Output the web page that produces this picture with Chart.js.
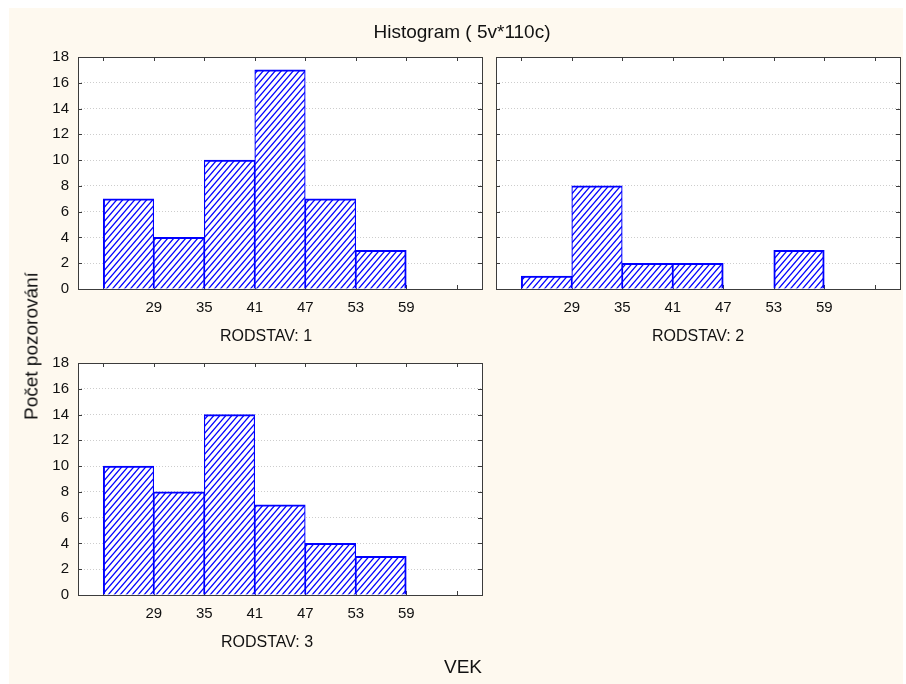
<!DOCTYPE html>
<html><head><meta charset="utf-8">
<script src="https://cdn.jsdelivr.net/npm/chart.js@4"></script>
<style>
html,body{margin:0;padding:0;background:#fff;}
#page{position:relative;width:906px;height:684px;overflow:hidden;background:#fff;}
#bg{position:absolute;left:9px;top:8px;width:894px;height:676px;background:#FEF9EF;}
canvas{position:absolute;left:0;top:0;}
.t{position:absolute;transform:translate(-50%,-50%);white-space:nowrap;font-family:'Liberation Sans',Arial,sans-serif;color:#111;line-height:1;}
</style></head>
<body><div id="page"><div id="bg"></div>
<canvas id="c1" width="906" height="684"></canvas>
<canvas id="c2" width="906" height="684"></canvas>
<canvas id="c3" width="906" height="684"></canvas>
<div class="t" style="left:462px;top:31px;font-size:19px">Histogram ( 5v*110c)</div>
<div class="t" style="left:31px;top:346px;font-size:19px;transform:translate(-50%,-50%) rotate(-90deg)">Počet pozorování</div>
<div class="t" style="left:463px;top:666px;font-size:19px">VEK</div>
<div class="t" id="p1" style="left:266px;top:336px;font-size:16px"></div>
<div class="t" id="p2" style="left:698px;top:336px;font-size:16px"></div>
<div class="t" id="p3" style="left:267px;top:642px;font-size:16px"></div>
</div>
<script>
// ---- data ----
const binEdges = [23, 29, 35, 41, 47, 53, 59, 65];
const tickLabels = ['29', '35', '41', '47', '53', '59'];
const rodstav1 = [7, 4, 10, 17, 7, 3, 0];
const rodstav2 = [1, 8, 2, 2, 0, 3, 0];
const rodstav3 = [10, 8, 14, 7, 4, 3, 0];
const panelTitles = ['RODSTAV: 1', 'RODSTAV: 2', 'RODSTAV: 3'];
const yMin = 0, yMax = 18, yStep = 2;
const xMin = 20, xMax = 68;

Chart.defaults.font.family = "'Liberation Sans', Arial, sans-serif";
Chart.defaults.color = '#111';

function hatch() {
  const w = 6, h = 7, c = document.createElement('canvas');
  c.width = w; c.height = h;
  const g = c.getContext('2d');
  g.fillStyle = '#fff'; g.fillRect(0, 0, w, h);
  g.strokeStyle = '#0000ff'; g.lineWidth = 1.25;
  for (const o of [-w, 0, w]) {
    g.beginPath(); g.moveTo(o - w / h, h + 1); g.lineTo(o + w + w / h, -1); g.stroke();
  }
  return g.createPattern(c, 'repeat');
}
const pattern = hatch();
const FRAME = '#3c3c3c';

const framePlugin = {
  id: 'frame',
  beforeDraw(chart) {
    const {ctx, chartArea: a} = chart;
    ctx.save(); ctx.fillStyle = '#fff';
    ctx.fillRect(a.left, a.top, a.right - a.left, a.bottom - a.top);
    ctx.restore();
  },
  beforeDatasetsDraw(chart) {
    const {ctx, chartArea: a, scales} = chart;
    ctx.save(); ctx.strokeStyle = FRAME; ctx.lineWidth = 1;
    ctx.beginPath();
    scales.x.ticks.forEach(t => {
      const x = Math.round(scales.x.getPixelForValue(t.value)) + 0.5;
      ctx.moveTo(x, a.top); ctx.lineTo(x, a.top + 4);
      ctx.moveTo(x, a.bottom); ctx.lineTo(x, a.bottom - 4);
    });
    scales.y.ticks.forEach(t => {
      const y = Math.round(scales.y.getPixelForValue(t.value)) + 0.5;
      ctx.moveTo(a.left, y); ctx.lineTo(a.left + 4, y);
      ctx.moveTo(a.right, y); ctx.lineTo(a.right - 4, y);
    });
    ctx.stroke(); ctx.restore();
  },
  afterDatasetsDraw(chart) {
    const {ctx, chartArea: a} = chart;
    ctx.save(); ctx.strokeStyle = FRAME; ctx.lineWidth = 1;
    const l = Math.round(a.left), t = Math.round(a.top), r = Math.round(a.right), b = Math.round(a.bottom);
    ctx.strokeRect(l + 0.5, t + 0.5, r - l, b - t);
    ctx.restore();
  }
};

function makePanel(id, counts, pad, showY) {
  const data = counts.map((v, i) => ({x: (binEdges[i] + binEdges[i + 1]) / 2, y: v}));
  return new Chart(document.getElementById(id), {
    type: 'bar',
    data: {datasets: [{
      data,
      backgroundColor: ctx => counts[ctx.dataIndex] ? pattern : 'rgba(0,0,0,0)',
      borderColor: '#0000ff',
      borderSkipped: false,
      borderWidth: ctx => {
        const i = ctx.dataIndex;
        if (!counts[i]) return 0;
        return {top: 2, bottom: 0,
          left: (i === 0 || !counts[i - 1]) ? 2 : 1.2,
          right: (i === counts.length - 1 || !counts[i + 1]) ? 2 : 1.2};
      },
      barPercentage: 1, categoryPercentage: 1
    }]},
    options: {
      responsive: false, animation: false, devicePixelRatio: 1,
      layout: {padding: pad},
      plugins: {legend: {display: false}, tooltip: {enabled: false}, title: {display: false}},
      scales: {
        x: {
          type: 'linear', min: xMin, max: xMax, offset: false,
          afterBuildTicks: s => { s.ticks = binEdges.map(v => ({value: v})); },
          afterFit: s => { s.height = 40; },
          grid: {display: false, drawTicks: false, offset: false},
          border: {display: false},
          ticks: {autoSkip: false, maxRotation: 0, padding: 10, font: {size: 15}, color: '#111',
            callback: v => tickLabels.includes(String(v)) ? String(v) : ''}
        },
        y: {
          min: yMin, max: yMax,
          afterFit: s => { s.width = 50; },
          grid: {color: '#cdcdcd', lineWidth: 1, drawTicks: false},
          border: {display: false, dash: [1, 2]},
          ticks: {display: showY, stepSize: yStep, padding: 9, font: {size: 15}, color: '#111'}
        }
      }
    },
    plugins: [framePlugin]
  });
}

makePanel('c1', rodstav1, {left: 28, right: 424, top: 57, bottom: 355}, true);
makePanel('c2', rodstav2, {left: 446, right: 6, top: 57, bottom: 355}, false);
makePanel('c3', rodstav3, {left: 28, right: 424, top: 363, bottom: 49}, true);
document.getElementById('p1').textContent = panelTitles[0];
document.getElementById('p2').textContent = panelTitles[1];
document.getElementById('p3').textContent = panelTitles[2];
</script>
</body></html>
